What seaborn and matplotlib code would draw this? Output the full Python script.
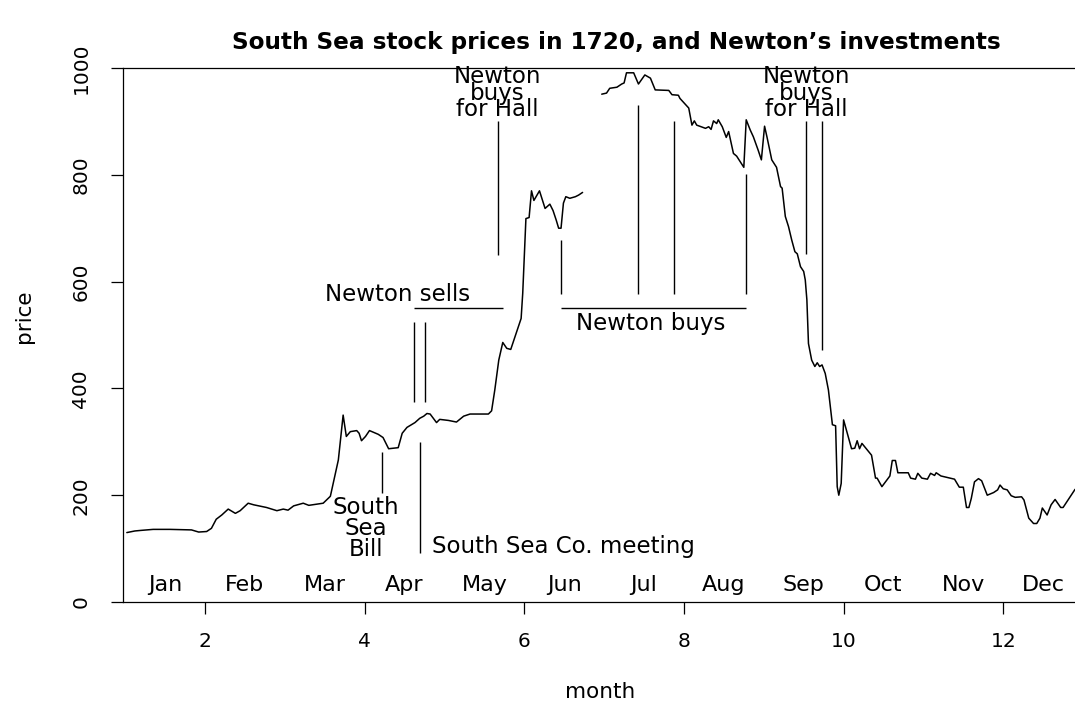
import pandas as pd
import matplotlib
matplotlib.use("Agg")
import matplotlib.pyplot as plt
import seaborn as sns

# South Sea stock, 1720: x = month (decimal), y = price; no quotes in late June
month_spring = [1.02, 1.12, 1.19, 1.35, 1.56, 1.83, 1.92, 2.02, 2.08, 2.14,
                2.21, 2.29, 2.38, 2.44, 2.54, 2.61, 2.77, 2.90, 2.98, 3.04,
                3.11, 3.23, 3.30, 3.48, 3.57, 3.67, 3.73, 3.77, 3.82, 3.90,
                3.93, 3.96, 4.01, 4.06, 4.17, 4.23, 4.30, 4.42, 4.47, 4.53,
                4.63, 4.69, 4.74, 4.78, 4.82, 4.90, 4.94, 5.05, 5.15, 5.24,
                5.32, 5.55, 5.59, 5.63, 5.68, 5.73, 5.78, 5.83, 5.96, 5.98,
                6.02, 6.06, 6.09, 6.12, 6.19, 6.26, 6.32, 6.36, 6.40, 6.43,
                6.46, 6.49, 6.52, 6.57, 6.64, 6.68, 6.73]
price_spring = [130, 133, 134, 136, 136, 135, 131, 132, 138, 155,
                163, 174, 166, 171, 185, 182, 177, 171, 174, 172,
                180, 185, 181, 185, 198, 266, 350, 310, 319, 321,
                316, 302, 310, 321, 314, 308, 287, 289, 316, 327,
                336, 344, 348, 353, 352, 336, 342, 340, 337, 348,
                352, 352, 358, 397, 453, 486, 475, 473, 531, 578,
                718, 720, 770, 752, 770, 737, 745, 733, 715, 700,
                700, 747, 759, 756, 759, 762, 767]

month_summer = [6.97, 7.03, 7.07, 7.16, 7.22, 7.25, 7.28, 7.37, 7.43, 7.51,
                7.58, 7.64, 7.81, 7.85, 7.93, 7.95, 8.06, 8.10, 8.13, 8.16,
                8.27, 8.31, 8.34, 8.37, 8.41, 8.43, 8.48, 8.53, 8.56, 8.62,
                8.66, 8.75, 8.78, 8.83, 8.87, 8.93, 8.97, 9.01, 9.04, 9.10,
                9.16, 9.21, 9.23, 9.27, 9.31, 9.35, 9.39, 9.42, 9.46, 9.50,
                9.52, 9.54, 9.56, 9.60, 9.64, 9.67, 9.70, 9.73, 9.77, 9.81,
                9.86, 9.90, 9.92, 9.94, 9.97, 10.00, 10.05, 10.10, 10.14, 10.17,
                10.20, 10.23, 10.35, 10.40, 10.42, 10.48, 10.58, 10.61, 10.65, 10.68,
                10.81, 10.84, 10.90, 10.93, 10.98, 11.05, 11.09, 11.14, 11.16, 11.22,
                11.39, 11.45, 11.50, 11.54, 11.57, 11.60, 11.64, 11.69, 11.73, 11.80,
                11.88, 11.93, 11.96, 12.00, 12.05, 12.10, 12.15, 12.23, 12.26, 12.32,
                12.38, 12.42, 12.46, 12.49, 12.55, 12.60, 12.65, 12.72, 12.75, 12.90]
price_summer = [951, 953, 962, 964, 970, 972, 991, 991, 970, 987,
                981, 959, 958, 950, 949, 943, 925, 893, 901, 893,
                887, 890, 885, 901, 896, 903, 890, 870, 881, 840,
                835, 814, 903, 884, 871, 846, 828, 891, 871, 828,
                814, 778, 775, 722, 703, 678, 656, 652, 628, 619,
                603, 566, 484, 453, 441, 448, 441, 444, 428, 397,
                332, 330, 216, 200, 222, 341, 314, 287, 288, 302,
                287, 297, 275, 232, 232, 216, 236, 265, 265, 242,
                242, 232, 230, 241, 232, 230, 241, 237, 242, 236,
                230, 215, 215, 177, 177, 194, 225, 231, 227, 200,
                205, 210, 219, 212, 210, 199, 196, 197, 191, 157,
                147, 147, 157, 176, 163, 182, 192, 177, 177, 211]

month_names = ["Jan", "Feb", "Mar", "Apr", "May", "Jun",
               "Jul", "Aug", "Sep", "Oct", "Nov", "Dec"]

# events (month) and the price span of their marker lines
bill_date, bill_span = 4.22, (205, 280)
meeting_date, meeting_span = 4.69, (92, 300)
sell_dates, sell_span = [4.62, 4.76], (375, 525)
buy_dates = [6.46, 7.42, 7.87, 8.78]
buy_tops = [677, 931, 901, 801]
hall_dates = [5.665, 9.53, 9.73]
hall_bottoms = [650, 652, 472]

sns.set_theme(style="ticks")
plt.rcParams["font.family"] = ["DejaVu Sans"]
plt.rcParams["text.color"] = "black"
plt.rcParams["axes.labelcolor"] = "black"

df = pd.concat([
    pd.DataFrame({"month": month_spring, "price": price_spring, "seg": 1}),
    pd.DataFrame({"month": month_summer, "price": price_summer, "seg": 2}),
])

fig = plt.figure(figsize=(10.75, 7.06), dpi=100)
ax = fig.add_axes([123 / 1075, 1 - 602 / 706, 976 / 1075, 534 / 706])

sns.lineplot(data=df, x="month", y="price", units="seg", estimator=None,
             color="black", linewidth=1.1, ax=ax)

ax.set_xlim(0.972, 13.2)
ax.set_ylim(0, 1000)
ax.set_xticks([2, 4, 6, 8, 10, 12])
ax.set_yticks([0, 200, 400, 600, 800, 1000])
ax.tick_params(axis="both", length=8.5, width=0.9, color="black",
               labelsize=14.5, labelcolor="black")
ax.tick_params(axis="x", pad=13)
ax.tick_params(axis="y", pad=15)
for lab in ax.get_yticklabels():
    lab.set_rotation(90)
    lab.set_va("center")
for sp in ax.spines.values():
    sp.set_color("black")
    sp.set_linewidth(0.9)

ax.set_xlabel("")
ax.set_ylabel("")
fig.text(600 / 1075, 1 - 692 / 706, "month", ha="center", va="center", fontsize=15.5)
fig.text(24 / 1075, 1 - 316 / 706, "price", ha="center", va="center",
         rotation=90, fontsize=15.5)
fig.text(616 / 1075, 1 - 42 / 706,
         "South Sea stock prices in 1720, and Newton\u2019s investments",
         ha="center", va="center", fontsize=16.7, fontweight="bold")

# month names along the bottom
for i, name in enumerate(month_names):
    ax.text(i + 1.5, 32, name, ha="center", va="center", fontsize=16)

lc = dict(color="black", linewidth=1.0)
txt = dict(fontsize=16.5, color="black")

# South Sea Bill
ax.vlines(bill_date, *bill_span, **lc)
ax.text(4.02, 138, "South\nSea\nBill", ha="center", va="center",
        linespacing=0.88, **txt)

# South Sea Co. meeting
ax.vlines(meeting_date, *meeting_span, **lc)
ax.text(4.845, 103, "South Sea Co. meeting", ha="left", va="center", **txt)

# Newton sells
ax.vlines(sell_dates, *sell_span, **lc)
ax.hlines(550, sell_dates[0], 5.73, **lc)
ax.text(4.406, 575, "Newton sells", ha="center", va="center", **txt)

# Newton buys
ax.vlines(buy_dates, 576, buy_tops, **lc)
ax.hlines(550, buy_dates[0], buy_dates[-1], **lc)
ax.text(7.589, 522, "Newton buys", ha="center", va="center", **txt)

# Newton buys for Hall
ax.vlines(hall_dates, hall_bottoms, 900, **lc)
for d in [hall_dates[0], hall_dates[1]]:
    ax.text(d, 953, "Newton\nbuys\nfor Hall", ha="center", va="center",
            linespacing=0.66, **txt)

fig.savefig("out.png", dpi=100)
